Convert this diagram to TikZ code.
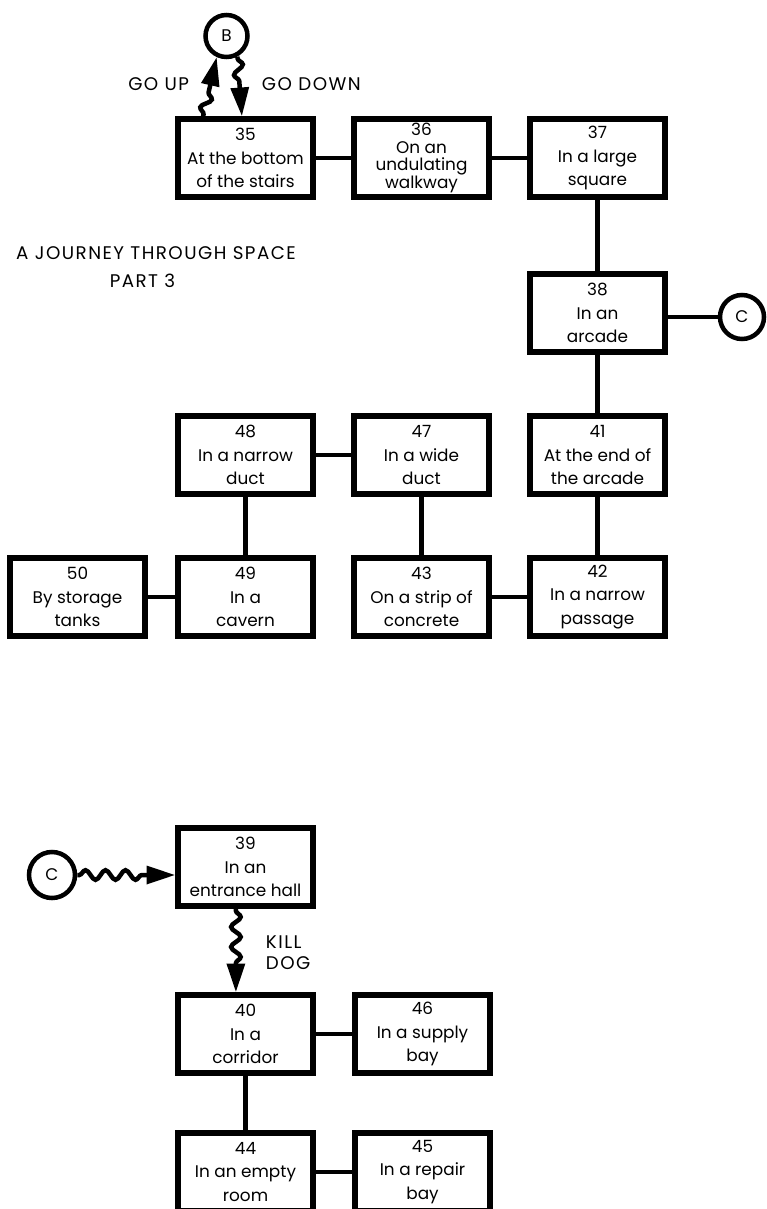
\documentclass[tikz,border=0pt]{standalone}
\usepackage{fontspec}
\setmainfont{Poppins}
\usetikzlibrary{arrows.meta,decorations.pathmorphing}

\tikzset{
  room/.style={draw,line width=3.8pt,minimum width=3.375cm,minimum height=1.95cm,
    inner sep=0pt,align=center,font=\fontsize{12}{16.5}\selectfont},
  link/.style={line width=3.2pt},
  exitpt/.style={draw,circle,line width=3.2pt,inner sep=0pt,font=\fontsize{12}{12}\selectfont},
  label/.style={font=\fontsize{13}{17}\selectfont\addfontfeature{LetterSpace=8}},
  wavy/.style={line width=3.2pt,-{Triangle[length=0.72cm,width=0.44cm]},decorate,
    decoration={snake,amplitude=0.12cm,segment length=0.5cm,pre length=0.05cm,post length=0.72cm}}
}

\begin{document}
\begin{tikzpicture}[x=0.025cm,y=-0.025cm]
  \useasboundingbox (0,0) rectangle (767,1209);

  % part one
  \node[exitpt,minimum size=1.05cm] (b) at (226.5,36) {B};
  \node[room] (r35) at (245.5,158) {35\\At the bottom\\of the stairs};
  \node[room,font=\fontsize{12}{12.5}\selectfont] (r36) at (421.5,158) {36\\On an\\undulating\\walkway};
  \node[room] (r37) at (597.5,158) {37\\In a large\\square};
  \node[room] (r38) at (597.5,313) {38\\In an\\arcade};
  \node[exitpt,minimum size=1.1cm] (c1) at (742,317) {C};
  \node[room] (r41) at (597.5,455) {41\\At the end of\\the arcade};
  \node[room] (r47) at (421.5,455) {47\\In a wide\\duct};
  \node[room] (r48) at (245.5,455) {48\\In a narrow\\duct};
  \node[room] (r42) at (597.5,597) {42\\In a narrow\\passage};
  \node[room] (r43) at (421.5,597) {43\\On a strip of\\concrete};
  \node[room] (r49) at (245.5,597) {49\\In a\\cavern};
  \node[room] (r50) at (77.5,597) {50\\By storage\\tanks};

  \node[label] (title) at (156,253) {A JOURNEY THROUGH SPACE};
  \node[label] (part) at (142.5,281) {PART 3};

  \node[label,anchor=east] (up) at (194,84) {GO UP};
  \node[label,anchor=west] (down) at (257,84) {GO DOWN};
  \draw[wavy] ([xshift=-1.06cm]r35.north) -- (b.245);
  \draw[wavy] (b.298) -- ([xshift=-0.09cm]r35.north);

  \draw[link] (r35) -- (r36);
  \draw[link] (r36) -- (r37);
  \draw[link] (r37) -- (r38);
  \draw[link] (r38.east |- c1) -- (c1);
  \draw[link] (r38) -- (r41);
  \draw[link] (r41) -- (r42);
  \draw[link] (r42) -- (r43);
  \draw[link] (r43) -- (r47);
  \draw[link] (r47) -- (r48);
  \draw[link] (r48) -- (r49);
  \draw[link] (r49) -- (r50);

  % part two
  \node[exitpt,minimum size=1.15cm] (c2) at (52,875) {C};
  \node[room] (r39) at (245.5,867) {39\\In an\\entrance hall};
  \node[room] (r40) at (245.5,1034) {40\\In a\\corridor};
  \node[room] (r46) at (422.5,1034) {46\\In a supply\\bay};
  \node[room] (r44) at (245.5,1172) {44\\In an empty\\room};
  \node[room] (r45) at (422.5,1172) {45\\In a repair\\bay};

  \node[label,align=left,anchor=west,font=\fontsize{13}{15}\selectfont\addfontfeature{LetterSpace=8}] (kill) at (261,953) {KILL\\DOG};
  \draw[wavy] (c2) -- (r39.west |- c2);
  \draw[wavy] ([xshift=-0.24cm]r39.south) -- ([xshift=-0.24cm]r40.north);

  \draw[link] (r40) -- (r46);
  \draw[link] (r40) -- (r44);
  \draw[link] (r44) -- (r45);
\end{tikzpicture}
\end{document}
